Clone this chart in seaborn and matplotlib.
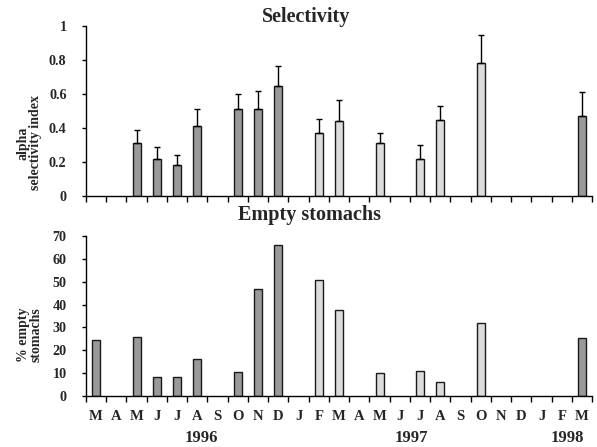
import numpy as np
import pandas as pd
import matplotlib
matplotlib.use("Agg")
import matplotlib.pyplot as plt
import matplotlib.transforms as mtransforms
import seaborn as sns

sns.set_theme(style="white")
plt.rcParams["font.family"] = ["Liberation Serif", "DejaVu Serif"]
plt.rcParams["font.weight"] = "bold"

# ---------------------------------------------------------
# Data (March 1996 - March 1998)
# ---------------------------------------------------------
months = ["M", "A", "M", "J", "J", "A", "S", "O", "N", "D",
          "J", "F", "M", "A", "M", "J", "J", "A", "S", "O", "N", "D",
          "J", "F", "M"]
years = ["1996"] * 10 + ["1997"] * 12 + ["1998"] * 3

nan = np.nan
selectivity = [nan, nan, 0.31, 0.22, 0.18, 0.41, nan, 0.51, 0.51, 0.65,
               nan, 0.37, 0.44, nan, 0.31, nan, 0.22, 0.45, nan, 0.78, nan, nan,
               nan, nan, 0.47]
selectivity_err = [nan, nan, 0.08, 0.07, 0.06, 0.10, nan, 0.09, 0.11, 0.115,
                   nan, 0.085, 0.125, nan, 0.06, nan, 0.08, 0.08, nan, 0.165, nan, nan,
                   nan, nan, 0.14]
empty = [24.5, nan, 25.7, 8.2, 8.2, 16.3, nan, 10.4, 46.8, 65.9,
         nan, 50.7, 37.8, nan, 9.9, nan, 10.8, 6.3, nan, 32.1, nan, nan,
         nan, nan, 25.5]

year_labels = ["1996", "1997", "1998"]
year_label_pos = [5.2, 15.55, 23.25]

palette = {"1996": "#9a9a9a", "1997": "#dcdcdc", "1998": "#9a9a9a"}

df = pd.DataFrame({
    "pos": np.arange(len(months)),
    "year": years,
    "sel": selectivity,
    "sel_err": selectivity_err,
    "empty": empty,
})
order = list(range(len(months)))

fig = plt.figure(figsize=(5.97, 4.47), dpi=100)
ax1 = fig.add_axes([0.144, 0.5615, 0.848, 0.3803])
ax2 = fig.add_axes([0.144, 0.1141, 0.848, 0.3579])


def style_axis(ax):
    ax.spines["top"].set_visible(False)
    ax.spines["right"].set_visible(False)
    for s in ["left", "bottom"]:
        ax.spines[s].set_color("black")
        ax.spines[s].set_linewidth(1.0)
    ax.set_xlim(-0.5, len(months) - 0.5)
    ax.set_xticks(np.arange(-0.5, len(months), 1.0))
    ax.set_xticklabels([])
    ax.tick_params(axis="x", which="major", direction="out", length=4,
                   width=1, color="black", bottom=True)
    ax.tick_params(axis="y", which="major", direction="out", length=3,
                   width=1, color="black", left=True, pad=11,
                   labelsize=10.2)
    for lab in ax.get_yticklabels():
        lab.set_fontweight("bold")
    ax.set_xlabel("")
    ax.set_ylabel("")
    ax.grid(False)


# ---------------------------------------------------------
# Selectivity
# ---------------------------------------------------------
sub = df.dropna(subset=["sel"])
sns.barplot(data=sub, x="pos", y="sel", hue="year", palette=palette, order=order,
            dodge=False, width=0.4, edgecolor="#1a1a1a", linewidth=1.0,
            legend=False, errorbar=None, ax=ax1)
ax1.errorbar(sub["pos"], sub["sel"], yerr=[np.zeros(len(sub)), sub["sel_err"]],
             fmt="none", ecolor="black", elinewidth=1.0, capsize=2.5, capthick=1.0)
ax1.set_ylim(0, 1)
ax1.set_yticks([0, 0.2, 0.4, 0.6, 0.8, 1.0])
ax1.set_yticklabels(["0", "0.2", "0.4", "0.6", "0.8", "1"])
style_axis(ax1)

# ---------------------------------------------------------
# Empty stomachs
# ---------------------------------------------------------
sub2 = df.dropna(subset=["empty"])
sns.barplot(data=sub2, x="pos", y="empty", hue="year", palette=palette, order=order,
            dodge=False, width=0.4, edgecolor="#1a1a1a", linewidth=1.0,
            legend=False, errorbar=None, ax=ax2)
ax2.set_ylim(0, 70)
ax2.set_yticks(range(0, 71, 10))
style_axis(ax2)

# month labels centred in each slot
ax2.set_xticks(np.arange(len(months)), minor=True)
ax2.set_xticklabels(months, minor=True, fontsize=10.5, fontweight="bold")
ax2.tick_params(axis="x", which="minor", length=0, pad=10)

trans = mtransforms.blended_transform_factory(ax2.transData, fig.transFigure)
for lab, xp in zip(year_labels, year_label_pos):
    ax2.text(xp, 1 - 438 / 447, lab, transform=trans, ha="center", va="center",
             fontsize=12, fontweight="bold")

# titles and axis labels
fig.text(306 / 597, 1 - 17 / 447, "Selectivity", ha="center", va="center",
         fontsize=14.5, fontweight="bold")
fig.text(310 / 597, 1 - 215 / 447, "Empty stomachs", ha="center", va="center",
         fontsize=14.5, fontweight="bold")
fig.text(29 / 597, 1 - 143 / 447, "alpha\nselectivity index", ha="center", va="center",
         rotation=90, fontsize=10, fontweight="bold", linespacing=1.0)
fig.text(30 / 597, 1 - 335 / 447, "% empty\nstomachs", ha="center", va="center",
         rotation=90, fontsize=10, fontweight="bold", linespacing=1.0)

fig.savefig("out.png", dpi=100)
